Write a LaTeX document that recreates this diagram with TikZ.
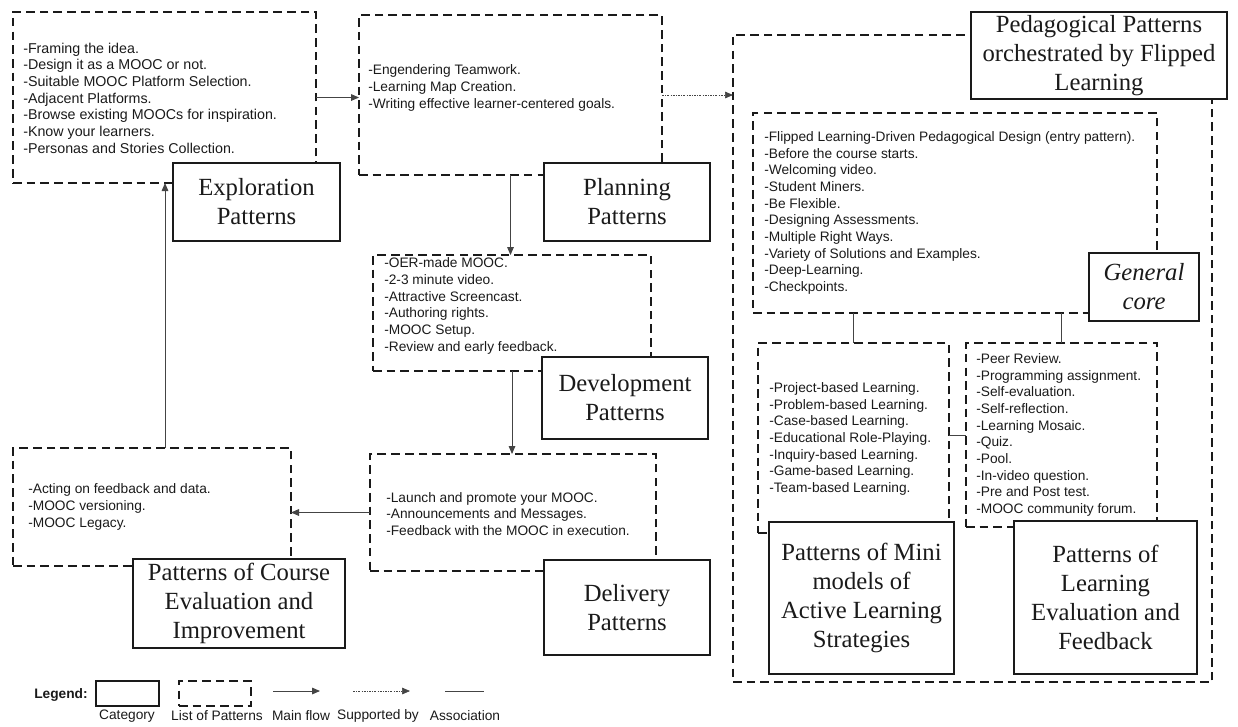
\documentclass[tikz,border=0pt]{standalone}
\usepackage{fontspec}
\setmainfont{Liberation Serif}
\newfontfamily\lsans{Liberation Sans}
\usetikzlibrary{arrows.meta}
\definecolor{ink}{HTML}{1A1A1A}
\definecolor{conn}{HTML}{444444}
\tikzset{
  sz/.style 2 args={minimum width={#1*0.75pt}, minimum height={#2*0.75pt}},
  listbox/.style={draw=ink, line width=1.1pt, dash pattern=on 6.5pt off 3.8pt, inner sep=0, outer sep=0},
  catbox/.style={draw=ink, line width=1.1pt, fill=white, inner sep=0, outer sep=0, align=center, text=ink,
    font=\fontsize{18.5}{21.8}\selectfont},
  listtext/.style={anchor=west, align=left, inner sep=0, text=ink, font=\lsans\fontsize{10.3}{12.5}\selectfont},
  legtext/.style={inner sep=0, text=ink, font=\lsans\fontsize{10.3}{12.5}\selectfont},
  flow/.style={draw=conn, line width=0.7pt, -{Triangle[length=6pt,width=5pt]}},
  support/.style={draw=conn, line width=0.5pt, dash pattern=on 1.5pt off 1pt on 0.5pt off 1pt, -{Triangle[length=6pt,width=5pt]}},
  assoc/.style={draw=conn, line width=0.7pt},
}
\begin{document}
\begin{tikzpicture}[x=0.75pt, y=-0.75pt]
\useasboundingbox (0,0) rectangle (1238,726);
% ---------- dashed list boxes ----------
\node[listbox, sz={303}{171}] (expL) at (164.5,97.5) {};
\node[listbox, sz={303}{160}] (planL) at (510.5,95) {};
\node[listbox, sz={479}{647}] (pedL) at (972.5,358.5) {};
\node[listbox, sz={404}{200}] (gcL) at (955,213) {};
\node[listbox, sz={191}{190}] (miniL) at (853.5,438) {};
\node[listbox, sz={191}{184}] (learnL) at (1061.5,435) {};
\node[listbox, sz={278}{116}] (devL) at (512,313) {};
\node[listbox, sz={286}{117}] (delL) at (513,512.5) {};
\node[listbox, sz={278}{118}] (ceL) at (152,507) {};
% ---------- connectors ----------
\draw[flow] (expL.east) -- (expL.east -| planL.west);
\draw[support] (planL.east) -- (planL.east -| pedL.west);
\draw[flow] (planL.south) -- (planL.south |- devL.north);
\draw[flow] (devL.south) -- (devL.south |- delL.north);
\draw[flow] (delL.west) -- (delL.west -| ceL.east);
\draw[flow] ([xshift=9.75pt]ceL.north) -- ([xshift=9.75pt]ceL.north |- expL.south);
\draw[assoc] (miniL.north) -- (miniL.north |- gcL.south);
\draw[assoc] (learnL.north) -- (learnL.north |- gcL.south);
\draw[assoc] (learnL.west) -- (learnL.west -| miniL.east);
% ---------- category boxes ----------
\node[catbox, sz={167}{78}] (expT) at (256.5,202) {Exploration\\Patterns};
\node[catbox, sz={166}{78}] (planT) at (627,202) {Planning\\Patterns};
\node[catbox, sz={256}{87}] (pedT) at (1099,55.5) {Pedagogical Patterns\\orchestrated by Flipped\\Learning};
\node[catbox, sz={110}{68}] (gcT) at (1144,287) {\itshape General\\\itshape core};
\node[catbox, sz={185}{152}] (miniT) at (861.5,598) {Patterns of Mini\\models of\\Active Learning\\Strategies};
\node[catbox, sz={183}{153}] (learnT) at (1105.5,597.5) {Patterns of\\Learning\\Evaluation and\\Feedback};
\node[catbox, sz={166}{82}] (devT) at (625,398) {Development\\Patterns};
\node[catbox, sz={166}{95}] (delT) at (627,607.5) {Delivery\\Patterns};
\node[catbox, sz={212}{89}] (ceT) at (239,603.5) {Patterns of Course\\Evaluation and\\Improvement};
% ---------- list texts ----------
\node[listtext, font=\lsans\fontsize{10.7}{12.5}\selectfont] (expX) at (23,98) {-Framing the idea.\\-Design it as a MOOC or not.\\-Suitable MOOC Platform Selection.\\-Adjacent Platforms.\\-Browse existing MOOCs for inspiration.\\-Know your learners.\\-Personas and Stories Collection.};
\node[listtext] (planX) at (368,88) {-Engendering Teamwork.\\-Learning Map Creation.\\-Writing effective learner-centered goals.};
\node[listtext] (gcX) at (764,213) {-Flipped Learning-Driven Pedagogical Design (entry pattern).\\-Before the course starts.\\-Welcoming video.\\-Student Miners.\\-Be Flexible.\\-Designing Assessments.\\-Multiple Right Ways.\\-Variety of Solutions and Examples.\\-Deep-Learning.\\-Checkpoints.};
\node[listtext] (miniX) at (769,439) {-Project-based Learning.\\-Problem-based Learning.\\-Case-based Learning.\\-Educational Role-Playing.\\-Inquiry-based Learning.\\-Game-based Learning.\\-Team-based Learning.};
\node[listtext] (learnX) at (976,435) {-Peer Review.\\-Programming assignment.\\-Self-evaluation.\\-Self-reflection.\\-Learning Mosaic.\\-Quiz.\\-Pool.\\-In-video question.\\-Pre and Post test.\\-MOOC community forum.};
\node[listtext] (devX) at (384,306) {-OER-made MOOC.\\-2-3 minute video.\\-Attractive Screencast.\\-Authoring rights.\\-MOOC Setup.\\-Review and early feedback.};
\node[listtext] (delX) at (386,514) {-Launch and promote your MOOC.\\-Announcements and Messages.\\-Feedback with the MOOC in execution.};
\node[listtext] (ceX) at (28,507) {-Acting on feedback and data.\\-MOOC versioning.\\-MOOC Legacy.};
% ---------- legend ----------
\node[legtext, font=\lsans\bfseries\fontsize{10.3}{12.5}\selectfont] (legT) at (61,695) {Legend:};
\node[draw=ink, line width=1.1pt, inner sep=0, sz={63}{25}] (legCat) at (127.5,693.5) {};
\node[listbox, sz={72}{25}] (legList) at (215,693.5) {};
\coordinate (mf1) at (273,691); \coordinate (mf2) at (320,691);
\coordinate (sb1) at (353,691); \coordinate (sb2) at (410,691);
\coordinate (as1) at (445,691); \coordinate (as2) at (484,691);
\draw[flow] (mf1) -- (mf2);
\draw[support] (sb1) -- (sb2);
\draw[assoc] (as1) -- (as2);
\node[legtext] (lc) at (127,716) {Category};
\node[legtext] (ll) at (217,716) {List of Patterns};
\node[legtext] (lm) at (301,716) {Main flow};
\node[legtext] (ls) at (378,716) {Supported by};
\node[legtext] (la) at (465,716) {Association};
\end{tikzpicture}
\end{document}
